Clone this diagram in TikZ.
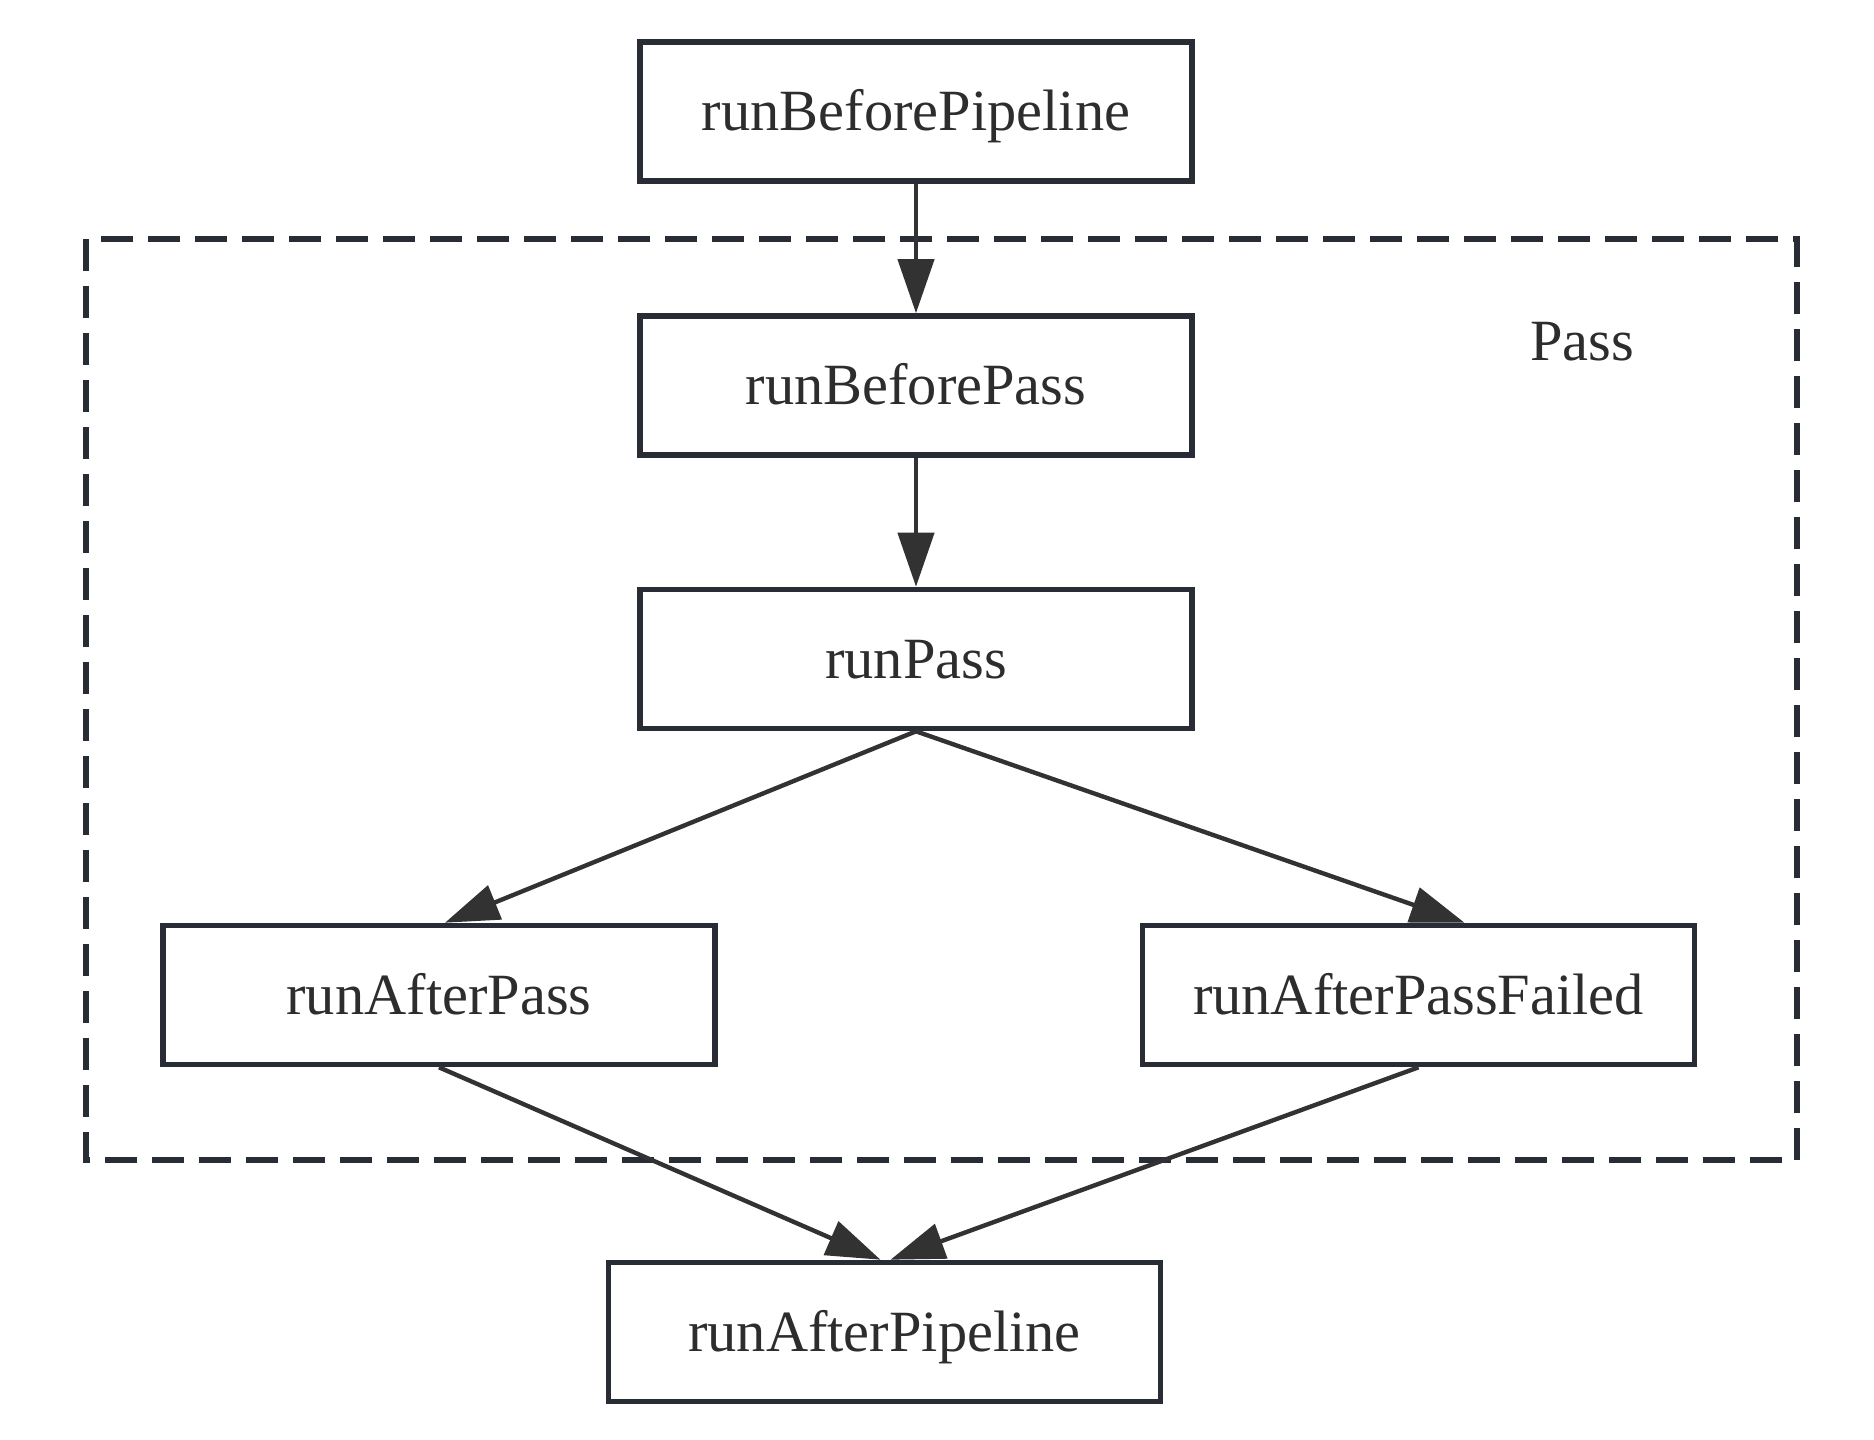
\documentclass[tikz,border=0pt]{standalone}
\usepackage{fontspec}
\setmainfont{Liberation Serif}
\usetikzlibrary{arrows.meta}
\definecolor{boxline}{RGB}{40,44,52}
\definecolor{arrowline}{RGB}{50,50,50}
\definecolor{txt}{RGB}{45,45,45}
\begin{document}
\begin{tikzpicture}[x=0.5pt,y=-0.5pt,
  stepbox/.style={draw=boxline,line width=2.8pt,fill=white,minimum width=276pt,minimum height=69.5pt,
    inner sep=0pt,font=\fontsize{29.2pt}{34pt}\selectfont,text=txt,text height=19.3pt,text depth=0pt},
  conn/.style={draw=arrowline,line width=2.2pt,-{Triangle[length=27pt,width=18pt]}},
  groupbox/.style={draw=boxline,line width=2.8pt,dash pattern=on 16pt off 7.5pt},
  lbl/.style={font=\fontsize{29.2pt}{34pt}\selectfont,text=txt,inner sep=0pt,text height=19.3pt,text depth=0pt}]
\useasboundingbox (0,0) rectangle (1874,1440);
\fill[white] (0,0) rectangle (1874,1440);
\draw[groupbox] (86,239) rectangle (1797,1160);
\node[lbl] (passlbl) at (1582,341) {Pass};
\node[stepbox] (rbp) at (916,111.5) {runBeforePipeline};
\node[stepbox] (rbpass) at (916,385.5) {runBeforePass};
\node[stepbox] (rpass) at (916,659) {runPass};
\node[stepbox] (rap) at (439,995) {runAfterPass};
\node[stepbox] (rapf) at (1418.5,995) {runAfterPassFailed};
\node[stepbox] (rapipe) at (884.5,1332) {runAfterPipeline};
\draw[conn] (rbp.south) -- (rbpass.north);
\draw[conn] (rbpass.south) -- (rpass.north);
\draw[conn] (rpass.south) -- ([xshift=3pt]rap.north);
\draw[conn] (rpass.south) -- ([xshift=23pt]rapf.north);
\draw[conn] (rap.south) -- ([xshift=-2pt]rapipe.north);
\draw[conn] (rapf.south) -- ([xshift=3pt]rapipe.north);
\end{tikzpicture}
\end{document}
